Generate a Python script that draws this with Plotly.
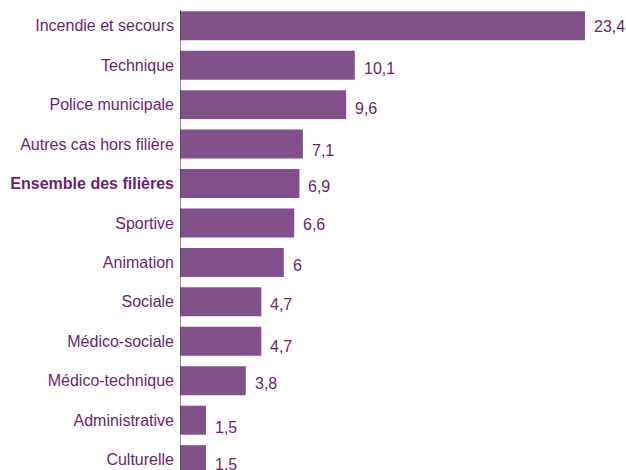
import plotly.graph_objects as go

categories = [
    "Incendie et secours", "Technique", "Police municipale", "Autres cas hors filière",
    "Ensemble des filières", "Sportive", "Animation", "Sociale", "Médico-sociale",
    "Médico-technique", "Administrative", "Culturelle",
]
values = [23.4, 10.1, 9.6, 7.1, 6.9, 6.6, 6.0, 4.7, 4.7, 3.8, 1.5, 1.5]
value_labels = ["23,4", "10,1", "9,6", "7,1", "6,9", "6,6", "6", "4,7", "4,7", "3,8", "1,5", "1,5"]
bold_category = "Ensemble des filières"

# style: downward offsets (px) of the value labels as seen in the reference
label_dy = [1, 3.5, 3.5, 6.5, 3, 2, 3.5, 2.5, 5, 3, 7, 5]

BAR = "#80518A"
TXT = "#6A1F6E"
FONT = "Liberation Sans, Arial, Helvetica, sans-serif"

idx = list(range(len(categories)))
ticktext = [f"<b>{c}</b>" if c == bold_category else c for c in categories]

fig = go.Figure(go.Bar(
    x=values, y=idx, orientation="h",
    marker=dict(color=BAR, line=dict(width=0)),
    width=0.735, hoverinfo="skip",
))

for i, (v, lab, dy) in enumerate(zip(values, value_labels, label_dy)):
    fig.add_annotation(x=v, y=i, text=lab, showarrow=False, xanchor="left",
                       yanchor="middle", xshift=7, yshift=-dy,
                       font=dict(family=FONT, size=16, color=TXT))

fig.add_shape(type="line", xref="x", yref="y", x0=0, x1=0, y0=-0.4, y1=11.3,
              line=dict(color="#6A1A6E", width=1.2))

fig.update_layout(
    width=626, height=470,
    margin=dict(l=180, r=0, t=6, b=0, autoexpand=False),
    paper_bgcolor="white", plot_bgcolor="white",
    showlegend=False,
    font=dict(family=FONT, size=16, color=TXT),
    xaxis=dict(range=[0, 25.77], visible=False, fixedrange=True),
    yaxis=dict(range=[11.262, -0.5], tickmode="array", tickvals=idx, ticktext=ticktext,
               showgrid=False, zeroline=False, showline=False, ticks="",
               ticklabelstandoff=5, automargin=False,
               tickfont=dict(family=FONT, size=16, color=TXT)),
)

fig.write_html(
    "out.html",
    config={"displayModeBar": False},
    post_script="document.body.style.margin='0';document.body.style.overflow='hidden';",
)
